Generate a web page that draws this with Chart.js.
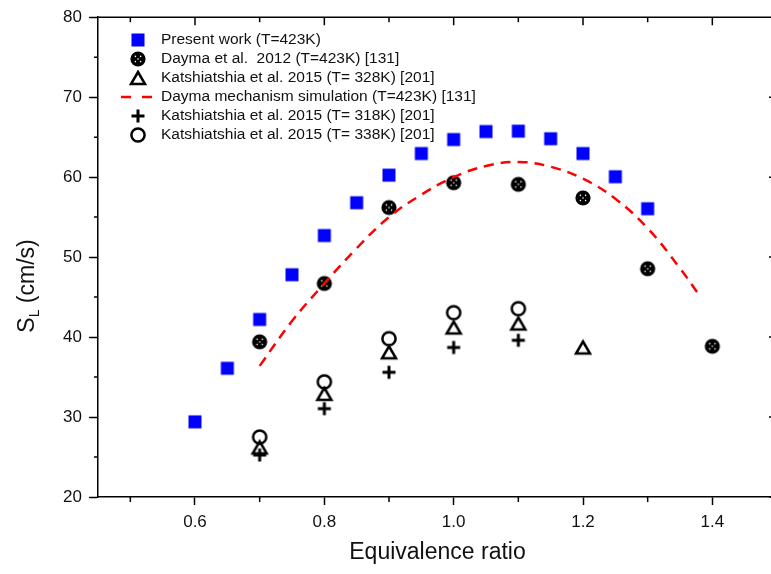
<!DOCTYPE html>
<html>
<head>
<meta charset="utf-8">
<script src="https://cdn.jsdelivr.net/npm/chart.js@4.4.0/dist/chart.umd.min.js"></script>
<style>
  html, body { margin: 0; padding: 0; background: #fff; overflow: hidden; }
  #wrap { width: 790px; height: 574px; }
</style>
</head>
<body>
<div id="wrap"><canvas id="chart" width="790" height="574"></canvas></div>
<script>
// --- data ---
const phiPresent = [0.6, 0.65, 0.7, 0.75, 0.8, 0.85, 0.9, 0.95, 1.0, 1.05, 1.1, 1.15, 1.2, 1.25, 1.3];
const slPresent  = [29.4, 36.1, 42.2, 47.8, 52.7, 56.8, 60.25, 62.95, 64.7, 65.7, 65.75, 64.8, 62.95, 60.05, 56.05];

const phiDayma = [0.7, 0.8, 0.9, 1.0, 1.1, 1.2, 1.3, 1.4];
const slDayma  = [39.4, 46.7, 56.2, 59.3, 59.1, 57.4, 48.55, 38.85];

const phiKat328 = [0.7, 0.8, 0.9, 1.0, 1.1, 1.2];
const slKat328  = [26.2, 32.9, 38.1, 41.2, 41.7, 38.7];

const phiSim = [0.7, 0.75, 0.8, 0.85, 0.9, 0.95, 1.0, 1.05, 1.1, 1.15, 1.2, 1.25, 1.3, 1.35, 1.38];
const slSim  = [36.4, 42.0, 46.7, 51.1, 55.0, 57.8, 60.0, 61.4, 61.9, 61.3, 59.8, 57.3, 53.6, 48.6, 45.2];

const phiKat318 = [0.7, 0.8, 0.9, 1.0, 1.1];
const slKat318  = [25.25, 31.05, 35.6, 38.7, 39.6];

const phiKat338 = [0.7, 0.8, 0.9, 1.0, 1.1];
const slKat338  = [27.5, 34.4, 39.8, 43.05, 43.55];

const xTicks = [0.6, 0.8, 1.0, 1.2, 1.4];
const xMinorTicks = [0.5, 0.7, 0.9, 1.1, 1.3, 1.5];
const yTicks = [20, 30, 40, 50, 60, 70, 80];
const yMinorTicks = [25, 35, 45, 55, 65, 75];

const FONT = "'Liberation Sans', Arial, sans-serif";

function pts(xs, ys) {
  return xs.map((v, i) => ({ x: v, y: ys[i] }));
}

// Origin-like symbols, drawn once into small canvases
function makeMarker(kind) {
  const c = document.createElement('canvas');
  c.width = 22; c.height = 22;
  const g = c.getContext('2d');
  const m = 11;
  g.strokeStyle = '#000';
  g.fillStyle = '#000';
  g.lineWidth = 2.5;
  if (kind === 'square') {
    g.fillStyle = '#0000ff';
    g.fillRect(m - 6.5, m - 6.5, 13, 13);
  } else if (kind === 'dayma') {
    g.beginPath();
    g.arc(m, m, 7.6, 0, Math.PI * 2);
    g.fill();
    g.fillStyle = '#fff';
    [[-2.6, -2.6], [2.6, -2.6], [0, 0], [-2.6, 2.6], [2.6, 2.6]].forEach(([dx, dy]) => {
      g.beginPath();
      g.arc(m + dx, m + dy, 0.8, 0, Math.PI * 2);
      g.fill();
    });
  } else if (kind === 'triangle') {
    g.lineJoin = 'miter';
    g.beginPath();
    g.moveTo(m, m - 6);
    g.lineTo(m + 7, m + 6);
    g.lineTo(m - 7, m + 6);
    g.closePath();
    g.stroke();
  } else if (kind === 'plus') {
    g.lineWidth = 3;
    g.beginPath();
    g.moveTo(m - 6.5, m); g.lineTo(m + 6.5, m);
    g.moveTo(m, m - 6.5); g.lineTo(m, m + 6.5);
    g.stroke();
  } else if (kind === 'circle') {
    g.beginPath();
    g.arc(m, m, 6.6, 0, Math.PI * 2);
    g.stroke();
  }
  return c;
}

const mkSquare = makeMarker('square');
const mkDayma = makeMarker('dayma');
const mkTri = makeMarker('triangle');
const mkPlus = makeMarker('plus');
const mkCircle = makeMarker('circle');

function markerSet(label, xs, ys, style) {
  return {
    label: label,
    data: pts(xs, ys),
    pointStyle: style,
    pointRadius: 8,
    showLine: false,
    borderColor: '#000',
    backgroundColor: '#000'
  };
}

const datasets = [
  markerSet('Present work (T=423K)', phiPresent, slPresent, mkSquare),
  markerSet('Dayma et al.  2012 (T=423K) [131]', phiDayma, slDayma, mkDayma),
  markerSet('Katshiatshia et al. 2015 (T= 328K) [201]', phiKat328, slKat328, mkTri),
  {
    label: 'Dayma mechanism simulation (T=423K) [131]',
    data: pts(phiSim, slSim),
    showLine: true,
    borderColor: '#ff0000',
    borderWidth: 2.5,
    borderDash: [10, 7],
    pointRadius: 0,
    tension: 0.4,
    order: -1
  },
  markerSet('Katshiatshia et al. 2015 (T= 318K) [201]', phiKat318, slKat318, mkPlus),
  markerSet('Katshiatshia et al. 2015 (T= 338K) [201]', phiKat338, slKat338, mkCircle)
];

// frame, minor ticks, axis titles and the in-plot legend
const extrasPlugin = {
  id: 'extras',
  beforeDatasetsDraw(chart) {
    const { ctx, chartArea: a, scales: { x, y } } = chart;
    ctx.save();
    ctx.strokeStyle = '#000';
    ctx.lineWidth = 1.5;
    ctx.beginPath();
    ctx.moveTo(a.left, a.top); ctx.lineTo(a.right, a.top); ctx.lineTo(a.right, a.bottom);
    xTicks.forEach(v => {
      const px = x.getPixelForValue(v);
      ctx.moveTo(px, a.top); ctx.lineTo(px, a.top + 8);
    });
    xMinorTicks.forEach(v => {
      const px = x.getPixelForValue(v);
      ctx.moveTo(px, a.top); ctx.lineTo(px, a.top + 5);
      ctx.moveTo(px, a.bottom); ctx.lineTo(px, a.bottom + 5);
    });
    yTicks.forEach(v => {
      const py = y.getPixelForValue(v);
      ctx.moveTo(a.right, py); ctx.lineTo(a.right - 8, py);
    });
    yMinorTicks.forEach(v => {
      const py = y.getPixelForValue(v);
      ctx.moveTo(a.left, py); ctx.lineTo(a.left - 4, py);
      ctx.moveTo(a.right, py); ctx.lineTo(a.right - 4, py);
    });
    ctx.stroke();
    ctx.restore();
  },
  afterDraw(chart) {
    const { ctx, chartArea: a } = chart;
    ctx.save();
    ctx.fillStyle = '#111';

    // x title
    ctx.font = '23px ' + FONT;
    ctx.textAlign = 'center';
    ctx.textBaseline = 'middle';
    ctx.fillText('Equivalence ratio', (a.left + a.right) / 2, 553);

    // y title with subscript
    ctx.translate(28, 286);
    ctx.rotate(-Math.PI / 2);
    ctx.textAlign = 'left';
    ctx.textBaseline = 'middle';
    const big = '23px ' + FONT, small = '14px ' + FONT;
    ctx.font = big; const wS = ctx.measureText('S').width;
    ctx.font = small; const wL = ctx.measureText('L').width;
    ctx.font = big; const wR = ctx.measureText(' (cm/s)').width;
    let tx = -(wS + wL + wR) / 2;
    ctx.font = big; ctx.fillText('S', tx, 0); tx += wS;
    ctx.font = small; ctx.fillText('L', tx, 7); tx += wL;
    ctx.font = big; ctx.fillText(' (cm/s)', tx, 0);
    ctx.setTransform(1, 0, 0, 1, 0, 0);

    // legend
    ctx.font = '15.5px ' + FONT;
    ctx.textAlign = 'left';
    ctx.textBaseline = 'middle';
    chart.data.datasets.forEach((ds, i) => {
      const ry = 40 + i * 19;
      if (ds.showLine) {
        ctx.strokeStyle = ds.borderColor;
        ctx.lineWidth = 2.5;
        ctx.beginPath();
        ctx.moveTo(121, ry); ctx.lineTo(131, ry);
        ctx.moveTo(142, ry); ctx.lineTo(152, ry);
        ctx.stroke();
      } else {
        const s = ds.pointStyle;
        ctx.drawImage(s, 138 - s.width / 2, ry - s.height / 2);
      }
      ctx.fillStyle = '#111';
      ctx.fillText(ds.label, 161, ry);
    });
    ctx.restore();
  }
};

Chart.defaults.font.family = FONT;

new Chart(document.getElementById('chart'), {
  type: 'scatter',
  data: { datasets: datasets },
  options: {
    responsive: false,
    devicePixelRatio: 1,
    animation: false,
    events: [],
    layout: { padding: { top: 16, right: 13, bottom: 0, left: 0 } },
    plugins: { legend: { display: false }, tooltip: { enabled: false } },
    scales: {
      x: {
        type: 'linear',
        min: 0.45,
        max: 1.5,
        afterBuildTicks: s => { s.ticks = xTicks.map(v => ({ value: v })); },
        afterFit: s => { s.height = 77; },
        ticks: {
          callback: v => v.toFixed(1),
          font: { size: 17 },
          color: '#111',
          padding: 7,
          maxRotation: 0,
          autoSkip: false
        },
        grid: { drawOnChartArea: false, drawTicks: true, tickLength: 8, tickWidth: 1.5, tickColor: '#000' },
        border: { display: true, color: '#000', width: 1.5 }
      },
      y: {
        type: 'linear',
        min: 20,
        max: 80,
        afterBuildTicks: s => { s.ticks = yTicks.map(v => ({ value: v })); },
        afterFit: s => { s.width = 98; },
        ticks: {
          callback: v => String(v),
          font: { size: 17 },
          color: '#111',
          padding: 7
        },
        grid: { drawOnChartArea: false, drawTicks: true, tickLength: 9, tickWidth: 1.5, tickColor: '#000' },
        border: { display: true, color: '#000', width: 1.5 }
      }
    }
  },
  plugins: [extrasPlugin]
});
</script>
</body>
</html>
